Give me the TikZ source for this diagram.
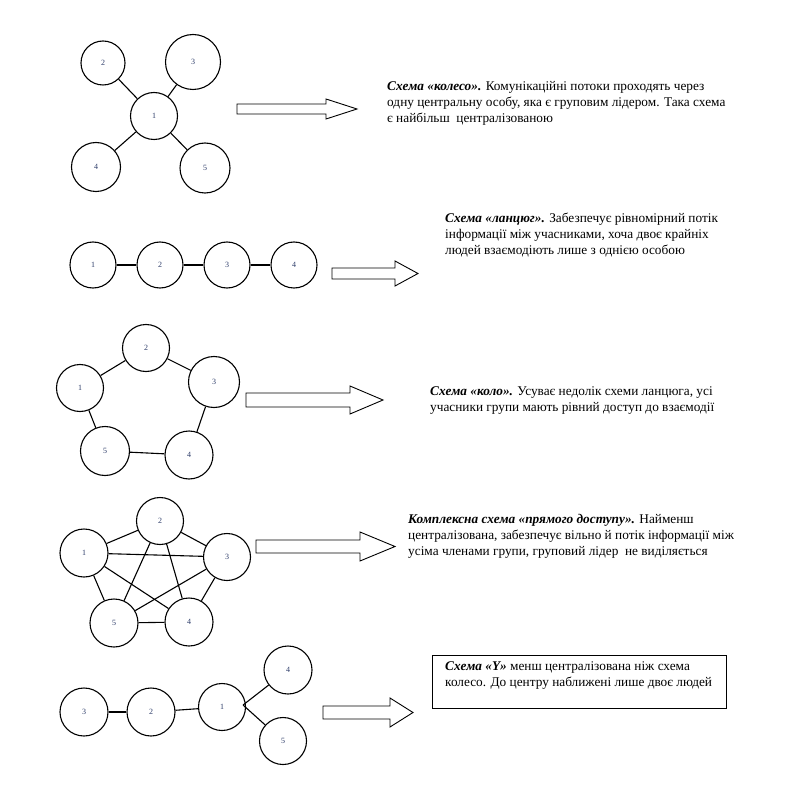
\documentclass[tikz,border=0pt]{standalone}
\usepackage{fontspec}
\setmainfont{Liberation Serif}
\usepackage{tikz}
\usetikzlibrary{calc}
\definecolor{numink}{RGB}{45,60,105}
\tikzset{
  member/.style={circle,draw,line width=1.1pt,inner sep=0pt,minimum size=#1,
    font=\fontsize{8}{9}\selectfont,text=numink},
  member/.default=47pt,
  link/.style={line width=1.1pt},
  fatarrow/.style={draw,line width=0.9pt,line join=miter},
  note/.style={anchor=north west,inner sep=0pt,align=left,font=\fontsize{13.3}{16}\selectfont},
  noteframe/.style={draw,line width=0.9pt,anchor=north west,inner sep=0pt}
}
% hollow block arrow: start x, head x, tip x, mid y, half shaft, half head
\newcommand{\blockarrow}[6]{%
  \draw[fatarrow] (#1,{#4-#5})--(#2,{#4-#5})--(#2,{#4-#6})--(#3,#4)
    --(#2,{#4+#6})--(#2,{#4+#5})--(#1,{#4+#5})--cycle;}
\newcommand{\schemename}[1]{\textbf{\textit{#1}}}

\begin{document}
\begin{tikzpicture}[x=1pt,y=-1pt]
  \useasboundingbox[fill=white] (0,0) rectangle (810,791);
  % wheel
  \node[member=47pt] (whone) at (154,116) {1};
  \node[member=44pt] (whtwo) at (103,63) {2};
  \node[member=55pt] (whthree) at (193,62) {3};
  \node[member=49pt] (whfour) at (96,167) {4};
  \node[member=50pt] (whfive) at (205,168) {5};
  \draw[link] (whone)--(whtwo);
  \draw[link] (whone)--(whthree);
  \draw[link] (whone)--(whfour);
  \draw[link] (whone)--(whfive);
  \blockarrow{237}{326}{357}{109}{5}{10}
  \node[note] (whnote) at (387,81) {\schemename{Схема «колесо».} Комунікаційні потоки проходять через\\
    одну центральну особу, яка є груповим лідером. Така схема\\
    є найбільш~ централізованою};
  % chain
  \node[member=46pt] (chone) at (93,265) {1};
  \node[member=46pt] (chtwo) at (160,265) {2};
  \node[member=46pt] (chthree) at (227,265) {3};
  \node[member=46pt] (chfour) at (294,265) {4};
  \draw[link] (chone)--(chtwo);
  \draw[link] (chtwo)--(chthree);
  \draw[link] (chthree)--(chfour);
  \blockarrow{332}{395}{418}{273.5}{5.5}{12.5}
  \node[note] (chnote) at (445,213) {\schemename{Схема «ланцюг».} Забезпечує рівномірний потік\\
    інформації між учасниками, хоча двоє крайніх\\
    людей взаємодіють лише з однією особою};
  % ring
  \node[member=47pt] (rgone) at (80,388) {1};
  \node[member=47pt] (rgtwo) at (146,348) {2};
  \node[member=51pt] (rgthree) at (214,382) {3};
  \node[member=48pt] (rgfour) at (189,455) {4};
  \node[member=49pt] (rgfive) at (105,451) {5};
  \draw[link] (rgone)--(rgtwo);
  \draw[link] (rgtwo)--(rgthree);
  \draw[link] (rgthree)--(rgfour);
  \draw[link] (rgfour)--(rgfive);
  \draw[link] (rgfive)--(rgone);
  \blockarrow{246}{350}{383}{400}{7}{14}
  \node[note] (rgnote) at (430,386) {\schemename{Схема «коло».} Усуває недолік схеми ланцюга, усі\\
    учасники групи мають рівний доступ до взаємодії};
  % direct access
  \node[member=48pt] (dcone) at (84,553) {1};
  \node[member=47pt] (dctwo) at (160,521) {2};
  \node[member=47pt] (dcthree) at (227,557) {3};
  \node[member=48pt] (dcfour) at (189,622) {4};
  \node[member=48pt] (dcfive) at (114,623) {5};
  \draw[link] (dcone)--(dctwo);
  \draw[link] (dcone)--(dcthree);
  \draw[link] (dcone)--(dcfour);
  \draw[link] (dcone)--(dcfive);
  \draw[link] (dctwo)--(dcthree);
  \draw[link] (dctwo)--(dcfour);
  \draw[link] (dctwo)--(dcfive);
  \draw[link] (dcthree)--(dcfour);
  \draw[link] (dcthree)--(dcfive);
  \draw[link] (dcfour)--(dcfive);
  \blockarrow{256}{360}{395}{546.5}{6.5}{14.5}
  \node[note] (dcnote) at (408,514) {\schemename{Комплексна схема «прямого доступу».} Найменш\\
    централізована, забезпечує вільно й потік інформації між\\
    усіма членами групи, груповий лідер~ не виділяється};
  % Y
  \node[member=48pt] (ythree) at (84,712) {3};
  \node[member=48pt] (ytwo) at (151,712) {2};
  \node[member=47pt] (yone) at (222,707) {1};
  \node[member=48pt] (yfour) at (288,670) {4};
  \node[member=47pt] (yfive) at (283,741) {5};
  \coordinate (yfork) at ([xshift=-3pt,yshift=2pt]yone.east);
  \draw[link] (ythree)--(ytwo);
  \draw[link] (ytwo)--(yone);
  \draw[link] (yfork)--(yfour);
  \draw[link] (yfork)--(yfive);
  \blockarrow{323}{390}{413}{712.5}{6.5}{14.5}
  \node[noteframe,minimum width=294pt,minimum height=53pt] (yframe) at (432,655) {};
  \node[note] (ynote) at (445,661) {\schemename{Схема «Y»} менш централізована ніж схема\\
    колесо. До центру наближені лише двоє людей};
\end{tikzpicture}
\end{document}
